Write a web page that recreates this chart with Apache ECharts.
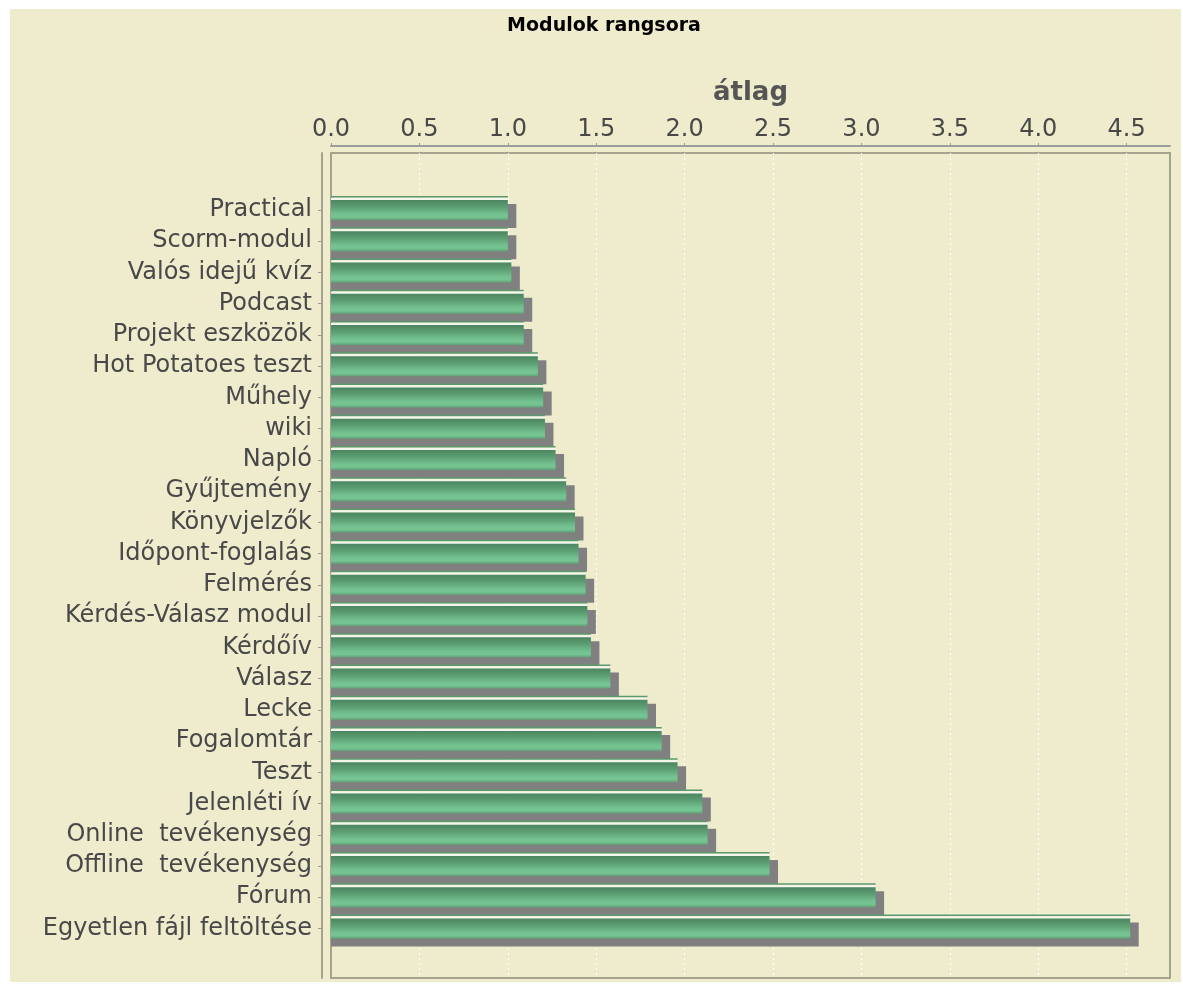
<!DOCTYPE html>
<html>
<head>
<meta charset="utf-8">
<title>Modulok rangsora</title>
<script src="https://cdn.jsdelivr.net/npm/echarts@6/dist/echarts.min.js"></script>
<style>
  body { margin: 0; background: #ffffff; }
  #chart { position: absolute; left: 10px; top: 9px; width: 1171px; height: 973px; background: #eeeccd; }
</style>
</head>
<body>
<div id="chart"></div>
<script>
  // modul nevek (fentről lefelé)
  var categories = [
    'Practical', 'Scorm-modul', 'Valós idejű kvíz', 'Podcast', 'Projekt eszközök',
    'Hot Potatoes teszt', 'Műhely', 'wiki', 'Napló', 'Gyűjtemény', 'Könyvjelzők',
    'Időpont-foglalás', 'Felmérés', 'Kérdés-Válasz modul', 'Kérdőív', 'Válasz',
    'Lecke', 'Fogalomtár', 'Teszt', 'Jelenléti ív', 'Online  tevékenység',
    'Offline  tevékenység', 'Fórum', 'Egyetlen fájl feltöltése'
  ];
  // átlag értékek
  var averages = [
    1.00, 1.00, 1.02, 1.09, 1.09,
    1.17, 1.20, 1.21, 1.27, 1.33, 1.38,
    1.40, 1.44, 1.45, 1.47, 1.58,
    1.79, 1.87, 1.96, 2.10, 2.13,
    2.48, 3.08, 4.52
  ];
  var axisMax = 4.745;
  var font = 'DejaVu Sans';

  var faceGradient = new echarts.graphic.LinearGradient(0, 0, 0, 1, [
    { offset: 0, color: '#4b8660' },
    { offset: 0.35, color: '#5d9e73' },
    { offset: 0.7, color: '#73c190' },
    { offset: 0.85, color: '#76c593' },
    { offset: 1, color: '#5fa277' }
  ]);

  // 3D-szerű sáv: árnyék + színátmenetes előlap + felső csík
  function renderBar(params, api) {
    var start = api.coord([0, api.value(1)]);
    var end = api.coord([api.value(0), api.value(1)]);
    var x0 = start[0], x1 = end[0], c = end[1];
    var w = x1 - x0;
    return {
      type: 'group',
      children: [
        { type: 'rect', shape: { x: x0, y: c - 6, width: w + 8.5, height: 24 }, style: { fill: '#808080' } },
        { type: 'rect', shape: { x: x0, y: c - 14, width: w, height: 1.5 }, style: { fill: '#5b9a6e' } },
        { type: 'rect', shape: { x: x0, y: c - 12, width: w, height: 2 }, style: { fill: '#f4f6ee' } },
        { type: 'rect', shape: { x: x0, y: c - 10, width: w, height: 20 }, style: { fill: faceGradient } }
      ]
    };
  }

  var chart = echarts.init(document.getElementById('chart'));
  var option = {
    animation: false,
    backgroundColor: 'transparent',
    title: {
      text: 'Modulok rangsora',
      left: 594,
      top: 8,
      padding: 0,
      textAlign: 'center',
      textStyle: { fontFamily: font, fontSize: 19, fontWeight: 'bold', color: '#000000' }
    },
    grid: [
      { // keret
        left: 321, right: 11, top: 144, bottom: 4,
        show: true, borderColor: '#a4a48e', borderWidth: 2, backgroundColor: 'transparent'
      },
      { // sávok
        left: 321, right: 11, top: 185.4, bottom: 37.9
      }
    ],
    xAxis: [
      {
        gridIndex: 0,
        type: 'value',
        position: 'top',
        offset: 7,
        min: 0,
        max: axisMax,
        interval: 0.5,
        name: 'átlag',
        nameLocation: 'middle',
        nameGap: 40,
        nameTextStyle: { fontFamily: font, fontSize: 26, fontWeight: 'bold', color: '#555555' },
        axisLine: { show: true, onZero: false, lineStyle: { color: '#9c9c9c', width: 2 } },
        axisTick: { show: true, length: 3, lineStyle: { color: '#9c9c9c' } },
        axisLabel: {
          showMaxLabel: false,
          margin: 4,
          fontFamily: font, fontSize: 24, color: '#484848',
          formatter: function (v) { return v.toFixed(1); }
        },
        splitLine: {
          show: true,
          showMinLine: false,
          showMaxLine: false,
          lineStyle: { color: '#ffffff', width: 1, type: [2, 3] }
        }
      },
      {
        gridIndex: 1,
        type: 'value',
        min: 0,
        max: axisMax,
        show: false
      }
    ],
    yAxis: [
      {
        gridIndex: 0,
        type: 'value',
        min: 0,
        max: 1,
        offset: 9,
        axisLine: { show: true, onZero: false, lineStyle: { color: '#a4a48e', width: 2 } },
        axisTick: { show: false },
        axisLabel: { show: false },
        splitLine: { show: false }
      },
      {
        gridIndex: 1,
        type: 'category',
        data: categories,
        inverse: true,
        offset: 9,
        axisLine: { show: false, onZero: false },
        axisTick: { show: true, length: 4, alignWithLabel: true, lineStyle: { color: '#9c9c9c' } },
        axisLabel: { margin: 10, fontFamily: font, fontSize: 24, color: '#484848' }
      }
    ],
    series: [
      {
        name: 'átlag',
        type: 'custom',
        xAxisIndex: 1,
        yAxisIndex: 1,
        renderItem: renderBar,
        encode: { x: 0, y: 1 },
        data: averages.map(function (v, i) { return [v, i]; })
      }
    ]
  };
  chart.setOption(option);
</script>
</body>
</html>
